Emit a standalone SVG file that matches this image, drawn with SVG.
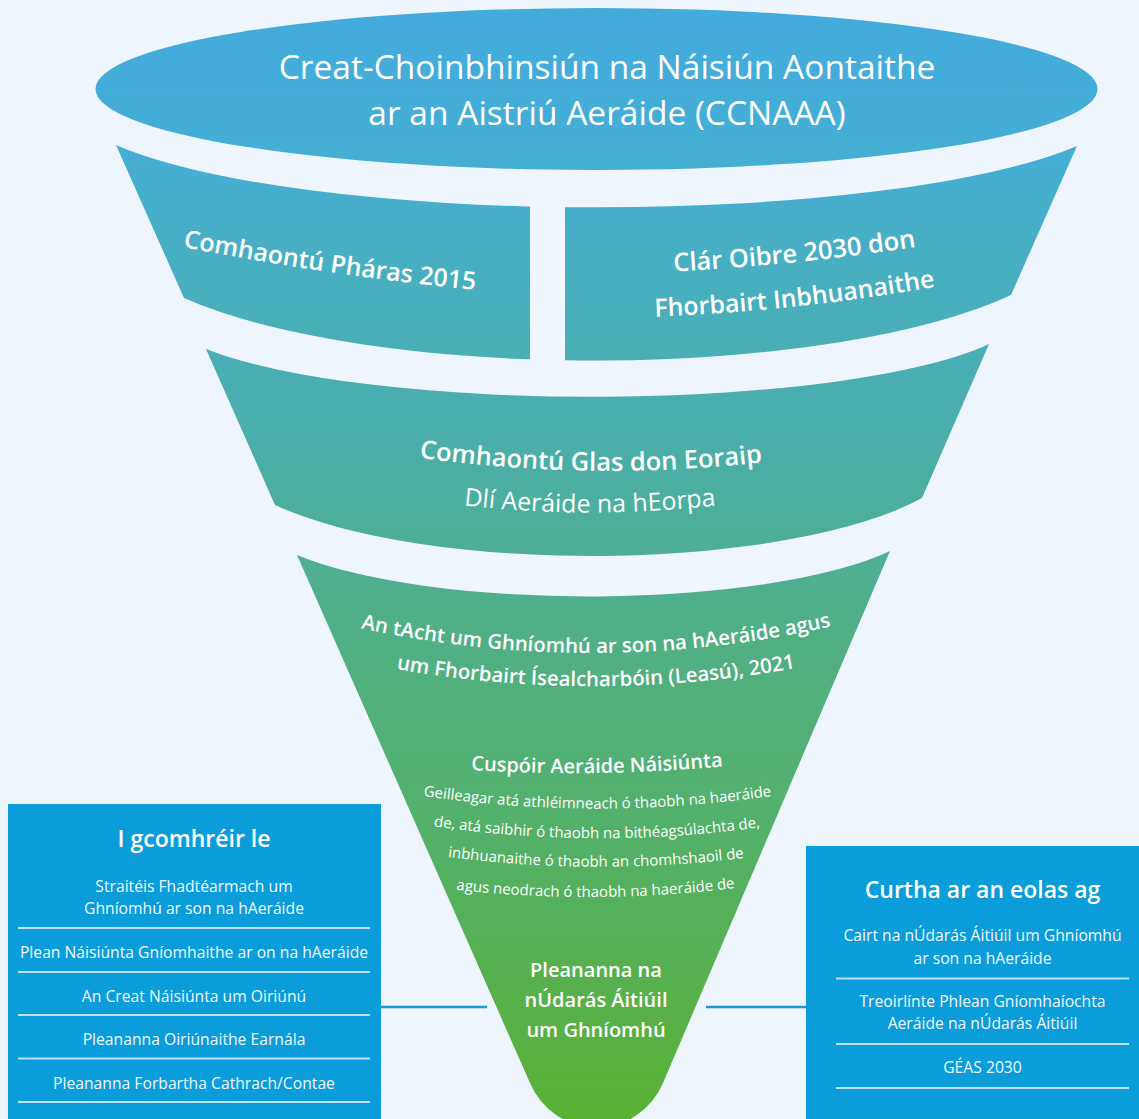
<svg xmlns="http://www.w3.org/2000/svg" width="1139" height="1119" viewBox="0 0 1139 1119">
<style>
.ff{font-family:"Open Sans",Lato,"Liberation Sans",sans-serif;fill:#ffffff}
.title{font-size:33.5px;font-weight:500}
.band{font-size:25px;font-weight:600}
.band2{font-size:25.5px;font-weight:600}
.bandn{font-size:25px;font-weight:400}
.act{font-size:20.4px;font-weight:600}
.goal{font-size:20px;font-weight:600}
.body{font-size:15px;font-weight:400}
.plan{font-size:20px;font-weight:600}
.boxtitle{font-size:23px;font-weight:600}
.item{font-size:15.7px;font-weight:400;fill:#eef8fd}
.div{stroke:#bfe3f5;stroke-width:2}
.conn{stroke:#1f98d6;stroke-width:2.5;fill:none}
.box{fill:#0a9dd9}
.fun{fill:url(#g)}
</style>
<defs>
<linearGradient id="g" gradientUnits="userSpaceOnUse" x1="0" y1="0" x2="0" y2="1119">
<stop offset="0" stop-color="#42abdd"/>
<stop offset="0.12" stop-color="#45aed6"/>
<stop offset="0.25" stop-color="#48afc0"/>
<stop offset="0.4" stop-color="#4baea8"/>
<stop offset="0.55" stop-color="#50af88"/>
<stop offset="0.7" stop-color="#53b070"/>
<stop offset="0.85" stop-color="#56b054"/>
<stop offset="1" stop-color="#5ab134"/>
</linearGradient>
<path id="band2" d="M116,145 A530 107 0 0 0 1077,146 L1011,295 A480 130 0 0 1 184,298 Z"/>
<clipPath id="clipL"><rect x="0" y="100" width="530" height="300"/></clipPath>
<clipPath id="clipR"><rect x="565" y="100" width="600" height="300"/></clipPath>
<path id="p-paris" d="M172,245 Q330,276 486,291"/>
<path id="p-2030a" d="M662,272 Q795,266 928,245"/>
<path id="p-2030b" d="M645,317 Q795,312 945,285"/>
<path id="p-gd1" d="M407,456 Q591,483 775,461"/>
<path id="p-gd2" d="M452,504 Q590,521 728,504"/>
<path id="p-act1" d="M346,625 Q596,682 846,623"/>
<path id="p-act2" d="M385,667 Q596,706 807,666"/>
<path id="p-goal" d="M456,769 Q597,779 738,765"/>
<path id="p-b1" d="M410,794 Q597,823 785,794"/>
<path id="p-b2" d="M419,824 Q597,852 775,825"/>
<path id="p-b3" d="M433,855 Q597,878 759,856"/>
<path id="p-b4" d="M441,888 Q597,907 750,886"/>
</defs>
<rect x="0" y="0" width="1139" height="1119" fill="#eef5fd"/>

<g id="unfccc">
<ellipse class="fun" cx="596.5" cy="89" rx="501" ry="81"/>
<text class="ff title" x="607" y="79" text-anchor="middle">Creat-Choinbhinsiún na Náisiún Aontaithe</text>
<text class="ff title" x="607" y="125" text-anchor="middle">ar an Aistriú Aeráide (CCNAAA)</text>
</g>

<g id="paris">
<use href="#band2" class="fun" clip-path="url(#clipL)"/>
<text class="ff band"><textPath href="#p-paris" startOffset="50%" text-anchor="middle">Comhaontú Pháras 2015</textPath></text>
</g>

<g id="agenda2030">
<use href="#band2" class="fun" clip-path="url(#clipR)"/>
<text class="ff band2"><textPath href="#p-2030a" startOffset="50%" text-anchor="middle">Clár Oibre 2030 don</textPath></text>
<text class="ff band"><textPath href="#p-2030b" startOffset="50%" text-anchor="middle">Fhorbairt Inbhuanaithe</textPath></text>
</g>

<g id="green-deal">
<path class="fun" d="M206,349 A432 87 0 0 0 989,344 L922,498 A375 110 0 0 1 275,505 Z"/>
<text class="ff band2"><textPath href="#p-gd1" startOffset="50%" text-anchor="middle">Comhaontú Glas don Eoraip</textPath></text>
<text class="ff bandn"><textPath href="#p-gd2" startOffset="50%" text-anchor="middle">Dlí Aeráide na hEorpa</textPath></text>
</g>

<g id="climate-act">
<path class="fun" d="M297,555 A340 85 0 0 0 890,551 L663,1083 A72 72 0 0 1 530,1083 Z"/>
<text class="ff act"><textPath href="#p-act1" startOffset="50%" text-anchor="middle">An tAcht um Ghníomhú ar son na hAeráide agus</textPath></text>
<text class="ff act"><textPath href="#p-act2" startOffset="50%" text-anchor="middle">um Fhorbairt Ísealcharbóin (Leasú), 2021</textPath></text>
<text class="ff goal"><textPath href="#p-goal" startOffset="50%" text-anchor="middle">Cuspóir Aeráide Náisiúnta</textPath></text>
<text class="ff body"><textPath href="#p-b1" startOffset="50%" text-anchor="middle">Geilleagar atá athléimneach ó thaobh na haeráide</textPath></text>
<text class="ff body"><textPath href="#p-b2" startOffset="50%" text-anchor="middle">de, atá saibhir ó thaobh na bithéagsúlachta de,</textPath></text>
<text class="ff body"><textPath href="#p-b3" startOffset="50%" text-anchor="middle">inbhuanaithe ó thaobh an chomhshaoil de</textPath></text>
<text class="ff body"><textPath href="#p-b4" startOffset="50%" text-anchor="middle">agus neodrach ó thaobh na haeráide de</textPath></text>
<text class="ff plan" x="596" y="977" text-anchor="middle">Pleananna na</text>
<text class="ff plan" x="596" y="1007" text-anchor="middle">nÚdarás Áitiúil</text>
<text class="ff plan" x="596" y="1037" text-anchor="middle">um Ghníomhú</text>
</g>

<g id="connectors">
<line class="conn" x1="381" y1="1007" x2="487" y2="1007"/>
<line class="conn" x1="706" y1="1007" x2="806" y2="1007"/>
</g>

<g id="aligned-with">
<rect class="box" x="8" y="804" width="373" height="320"/>
<text class="ff boxtitle" x="194" y="847" text-anchor="middle">I gcomhréir le</text>
<text class="ff item" x="194" y="891.5" text-anchor="middle">Straitéis Fhadtéarmach um</text>
<text class="ff item" x="194" y="913.5" text-anchor="middle">Ghníomhú ar son na hAeráide</text>
<line class="div" x1="18" y1="928" x2="370" y2="928"/>
<text class="ff item" x="194" y="957.5" text-anchor="middle">Plean Náisiúnta Gníomhaithe ar on na hAeráide</text>
<line class="div" x1="18" y1="972" x2="370" y2="972"/>
<text class="ff item" x="194" y="1001.5" text-anchor="middle">An Creat Náisiúnta um Oiriúnú</text>
<line class="div" x1="18" y1="1015" x2="370" y2="1015"/>
<text class="ff item" x="194" y="1045" text-anchor="middle">Pleananna Oiriúnaithe Earnála</text>
<line class="div" x1="18" y1="1058.5" x2="370" y2="1058.5"/>
<text class="ff item" x="194" y="1088.5" text-anchor="middle">Pleananna Forbartha Cathrach/Contae</text>
<line class="div" x1="18" y1="1102" x2="370" y2="1102"/>
</g>

<g id="informed-by">
<rect class="box" x="806" y="846" width="340" height="280"/>
<text class="ff boxtitle" x="982.5" y="897.5" text-anchor="middle">Curtha ar an eolas ag</text>
<text class="ff item" x="982.5" y="941" text-anchor="middle">Cairt na nÚdarás Áitiúil um Ghníomhú</text>
<text class="ff item" x="982.5" y="963.5" text-anchor="middle">ar son na hAeráide</text>
<line class="div" x1="836" y1="978.5" x2="1129" y2="978.5"/>
<text class="ff item" x="982.5" y="1007" text-anchor="middle">Treoirlínte Phlean Gníomhaíochta</text>
<text class="ff item" x="982.5" y="1029" text-anchor="middle">Aeráide na nÚdarás Áitiúil</text>
<line class="div" x1="836" y1="1044" x2="1129" y2="1044"/>
<text class="ff item" x="982.5" y="1072.5" text-anchor="middle">GÉAS 2030</text>
<line class="div" x1="836" y1="1088" x2="1129" y2="1088"/>
</g>
</svg>
